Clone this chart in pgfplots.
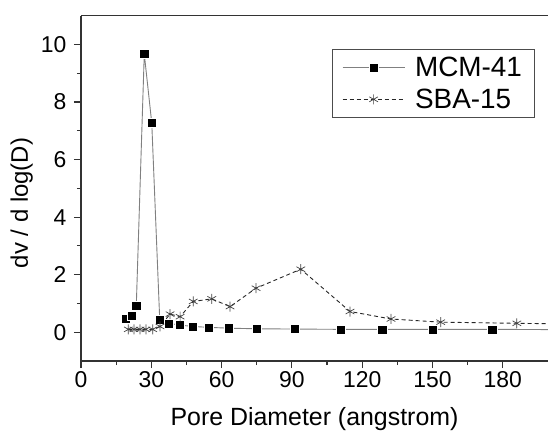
\documentclass[border=0pt]{standalone}
\usepackage{fontspec}
\setmainfont{Liberation Sans}
\usepackage{pgfplots}
\pgfplotsset{compat=1.18}

\begin{document}
\begin{tikzpicture}
\begin{axis}[
    scale only axis,
    width=467bp, height=345.3bp,
    xmin=0, xmax=199.3,
    ymin=-1, ymax=11,
    axis x line=box,
    axis y line=left,
    axis line style={-, line width=1.3bp, black!80},
    xtick pos=bottom,
    xtick={0,30,60,90,120,150,180},
    ytick={0,2,4,6,8,10},
    minor x tick num=1,
    minor y tick num=1,
    tick align=outside,
    major tick length=7bp,
    minor tick length=4bp,
    tick style={line width=1.1bp, black!80},
    xticklabel style={font=\fontsize{23}{27}\selectfont},
    yticklabel style={font=\fontsize{23}{27}\selectfont, xshift=-4bp},
    /pgf/number format/assume math mode=true,
    xlabel={Pore Diameter (angstrom)},
    ylabel={dv / d log(D)},
    xlabel style={font=\fontsize{25}{30}\selectfont,
        at={([yshift=-64bp]axis description cs:0.5,0)}, anchor=base},
    ylabel style={font=\fontsize{24}{29}\selectfont,
        at={([xshift=-59.3bp]axis description cs:0,0.4576)}, anchor=center},
    legend cell align=left,
    legend style={at={(rel axis cs:0.537,0.9036)}, anchor=north west,
        draw=black!70, line width=0.8bp,
        font=\fontsize{28}{33}\selectfont,
        inner xsep=10bp, inner ysep=5.5bp,
        row sep=7bp,
        /tikz/every odd column/.append style={column sep=8bp}},
    legend image code/.code={\draw[mark repeat=2, mark phase=2, #1]
        plot coordinates {(0bp,0bp) (31bp,0bp) (62bp,0bp)};},
]
\addplot[black!50, line width=0.9bp, mark=square*,
    mark options={solid, fill=black, draw=white, line width=0.4bp, mark size=4.6bp}]
coordinates {
    (19.1,0.46) (21.5,0.58) (23.6,0.93) (27.0,9.67) (30.2,7.27) (33.6,0.43)
    (37.4,0.31) (42.0,0.25) (47.7,0.20) (54.5,0.17) (63.2,0.14) (75.0,0.12)
    (91.3,0.11) (110.7,0.10) (128.5,0.10) (150.0,0.10) (175.5,0.10) (205,0.09)
};
\addlegendentry{MCM-41}

\addplot[black!85, line width=0.9bp, dash pattern=on 4bp off 3bp, mark=asterisk,
    mark options={solid, black!75, line width=0.7bp, mark size=5bp}]
coordinates {
    (20.2,0.10) (22.6,0.10) (25.2,0.10) (27.7,0.10) (30.6,0.10) (33.7,0.20)
    (38.0,0.63) (42.3,0.54) (47.9,1.07) (55.8,1.16) (63.6,0.89) (74.7,1.53)
    (93.8,2.19) (114.8,0.72) (132.3,0.46) (153.5,0.35) (186.0,0.31) (215,0.28)
};
\addlegendentry{SBA-15}
\end{axis}
\pgfresetboundingbox
\path[use as bounding box] ([shift={(-81bp,-70bp)}]current axis.south west)
    rectangle ([shift={(0bp,15.7bp)}]current axis.north east);
\end{tikzpicture}
\end{document}
